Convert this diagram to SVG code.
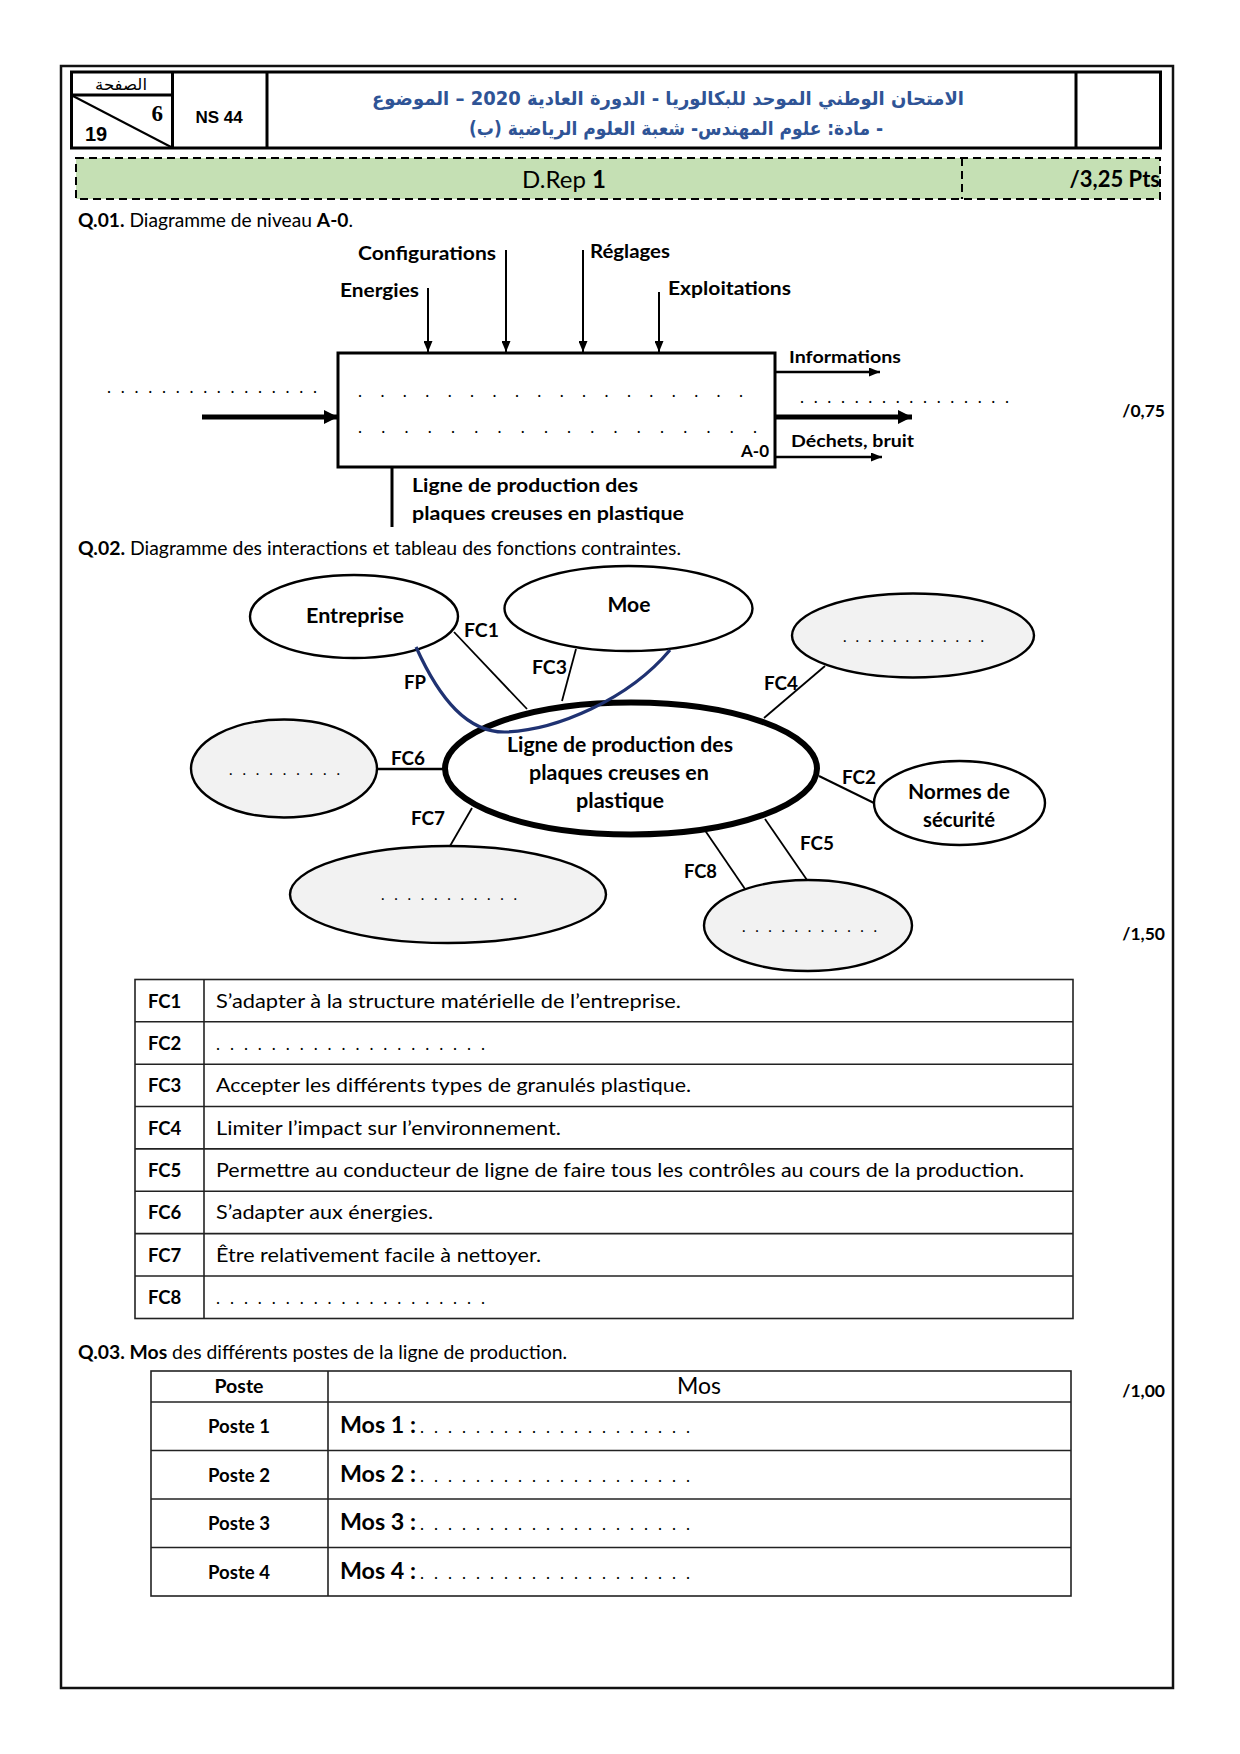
<svg xmlns="http://www.w3.org/2000/svg" width="1240" height="1754" viewBox="0 0 1240 1754">
<style>
.b{font-family:Lato,'Noto Sans',sans-serif;font-weight:700;fill:#000}
.r{font-family:Lato,'Noto Sans',sans-serif;font-weight:400;fill:#000}
.ln{stroke:#000;fill:none}
.el{fill:#fff;stroke:#000;stroke-width:2.4}
.eg{fill:#f2f2f2;stroke:#000;stroke-width:2.4}
.ar{font-family:'DejaVu Sans',sans-serif;font-weight:700;fill:#2F5496}
.tb{stroke:#222;stroke-width:1.6;fill:none}
.fc{font-family:Lato,'Noto Sans',sans-serif;font-weight:700;font-size:19.5px;fill:#000}
</style>
<defs>
<marker id="ah" markerUnits="userSpaceOnUse" markerWidth="11" markerHeight="9" refX="11" refY="4.5" orient="auto"><path d="M0,0 L11,4.5 L0,9 z" fill="#000"/></marker>
<marker id="ahb" markerUnits="userSpaceOnUse" markerWidth="14" markerHeight="14" refX="14" refY="7" orient="auto"><path d="M0,0 L14,7 L0,14 z" fill="#000"/></marker>
</defs>
<rect width="1240" height="1754" fill="#fff"/>
<rect x="61" y="66" width="1112" height="1622" fill="none" stroke="#111" stroke-width="2.5"/>

<g id="header">
<rect x="71.5" y="72" width="1089" height="76" class="ln" stroke-width="3"/>
<line x1="172.5" y1="72" x2="172.5" y2="148" class="ln" stroke-width="3"/>
<line x1="267" y1="72" x2="267" y2="148" class="ln" stroke-width="3"/>
<line x1="1076" y1="72" x2="1076" y2="148" class="ln" stroke-width="3"/>
<line x1="71.5" y1="95" x2="172.5" y2="95" class="ln" stroke-width="3"/>
<line x1="73" y1="96" x2="171" y2="147" class="ln" stroke-width="2"/>
<text x="121" y="90" font-family="'DejaVu Sans',sans-serif" font-size="16" text-anchor="middle" direction="rtl" textLength="52" lengthAdjust="spacingAndGlyphs">الصفحة</text>
<text x="163" y="121" font-family="'Liberation Serif',serif" font-weight="700" font-size="23" text-anchor="end">6</text>
<text x="85" y="141" font-family="'Liberation Sans',sans-serif" font-weight="700" font-size="20">19</text>
<text x="219" y="123" font-family="'Liberation Sans',sans-serif" font-weight="700" font-size="17" text-anchor="middle">NS 44</text>
<text x="668" y="105" class="ar" font-size="19" text-anchor="middle" direction="rtl" textLength="592" lengthAdjust="spacingAndGlyphs">الامتحان الوطني الموحد للبكالوريا - الدورة العادية 2020 – الموضوع</text>
<text x="676" y="135" class="ar" font-size="19" text-anchor="middle" direction="rtl" textLength="414" lengthAdjust="spacingAndGlyphs">- مادة: علوم المهندس- شعبة العلوم الرياضية (ب)</text>
</g>

<g id="banner">
<rect x="76" y="158" width="1084" height="41" fill="#C5E0B4" stroke="#000" stroke-width="2" stroke-dasharray="8 5"/>
<line x1="962" y1="158" x2="962" y2="199" stroke="#000" stroke-width="2" stroke-dasharray="8 5"/>
<text x="564" y="188" class="r" font-size="24" text-anchor="middle">D.Rep <tspan class="b">1</tspan></text>
<text x="1160" y="187" class="b" font-size="22" text-anchor="end">/3,25 Pts</text>
</g>

<g id="q01">
<text x="78" y="227" class="r" font-size="18.5" textLength="275" lengthAdjust="spacingAndGlyphs"><tspan class="b">Q.01.</tspan> Diagramme de niveau <tspan class="b">A-0</tspan>.</text>
<text x="1165" y="417" class="b" font-size="17.5" text-anchor="end">/0,75</text>
</g>

<g id="a0-box">
<rect x="338" y="353" width="437" height="114" fill="#fff" stroke="#000" stroke-width="3"/>
<text x="358" y="397" class="r" font-size="17" textLength="385" lengthAdjust="spacing">. . . . . . . . . . . . . . . . . .</text>
<text x="358" y="433" class="r" font-size="17" textLength="399" lengthAdjust="spacing">. . . . . . . . . . . . . . . . . .</text>
<text x="769" y="457" class="b" font-size="17" text-anchor="end">A-0</text>
</g>

<g id="a0-labels">
<text x="358" y="260" class="b" font-size="18.5" textLength="138" lengthAdjust="spacingAndGlyphs">Configurations</text>
<text x="590" y="258" class="b" font-size="18.5" textLength="80" lengthAdjust="spacingAndGlyphs">Réglages</text>
<text x="340" y="297" class="b" font-size="18.5" textLength="79" lengthAdjust="spacingAndGlyphs">Energies</text>
<text x="668" y="295" class="b" font-size="18.5" textLength="123" lengthAdjust="spacingAndGlyphs">Exploitations</text>
<text x="789" y="363" class="b" font-size="17" textLength="112" lengthAdjust="spacingAndGlyphs">Informations</text>
<text x="791" y="447" class="b" font-size="17" textLength="123" lengthAdjust="spacingAndGlyphs">Déchets, bruit</text>
<text x="107" y="393" class="r" font-size="17" textLength="210" lengthAdjust="spacing">. . . . . . . . . . . . . . . .</text>
<text x="800" y="403" class="r" font-size="17" textLength="209" lengthAdjust="spacing">. . . . . . . . . . . . . . . .</text>
<text x="412" y="492" class="b" font-size="18.5" textLength="226" lengthAdjust="spacingAndGlyphs">Ligne de production des</text>
<text x="412" y="520" class="b" font-size="18.5" textLength="272" lengthAdjust="spacingAndGlyphs">plaques creuses en plastique</text>
</g>

<g id="a0-arrows">
<line x1="428" y1="288" x2="428" y2="352" class="ln" stroke-width="2" marker-end="url(#ah)"/>
<line x1="506" y1="250" x2="506" y2="352" class="ln" stroke-width="2" marker-end="url(#ah)"/>
<line x1="583" y1="250" x2="583" y2="352" class="ln" stroke-width="2" marker-end="url(#ah)"/>
<line x1="659" y1="292" x2="659" y2="352" class="ln" stroke-width="2" marker-end="url(#ah)"/>
<line x1="202" y1="417" x2="338" y2="417" class="ln" stroke-width="5" marker-end="url(#ahb)"/>
<line x1="776" y1="417" x2="912" y2="417" class="ln" stroke-width="5" marker-end="url(#ahb)"/>
<line x1="776" y1="372" x2="880" y2="372" class="ln" stroke-width="2.5" marker-end="url(#ah)"/>
<line x1="776" y1="457" x2="882" y2="457" class="ln" stroke-width="2.5" marker-end="url(#ah)"/>
<line x1="392" y1="468" x2="392" y2="527" class="ln" stroke-width="3"/>
</g>

<g id="q02">
<text x="78" y="555" class="r" font-size="18.5" textLength="603" lengthAdjust="spacingAndGlyphs"><tspan class="b">Q.02.</tspan> Diagramme des interactions et tableau des fonctions contraintes.</text>
<text x="1165" y="940" class="b" font-size="17.5" text-anchor="end">/1,50</text>
</g>

<g id="connectors">
<line x1="454" y1="632" x2="527" y2="709" class="ln" stroke-width="1.8"/>
<line x1="576" y1="649" x2="562" y2="701" class="ln" stroke-width="1.8"/>
<line x1="825" y1="666" x2="764" y2="718" class="ln" stroke-width="1.8"/>
<line x1="377" y1="769" x2="443" y2="769" class="ln" stroke-width="2.5"/>
<line x1="819" y1="776" x2="874" y2="803" class="ln" stroke-width="2"/>
<line x1="472" y1="808" x2="450" y2="846" class="ln" stroke-width="1.8"/>
<line x1="765" y1="819" x2="807" y2="880" class="ln" stroke-width="1.8"/>
<line x1="702" y1="826" x2="745" y2="889" class="ln" stroke-width="1.8"/>
<text x="464" y="637" class="fc" textLength="35" lengthAdjust="spacingAndGlyphs">FC1</text>
<text x="532" y="674" class="fc" textLength="35" lengthAdjust="spacingAndGlyphs">FC3</text>
<text x="404" y="689" class="fc" textLength="22" lengthAdjust="spacingAndGlyphs">FP</text>
<text x="764" y="690" class="fc" textLength="34" lengthAdjust="spacingAndGlyphs">FC4</text>
<text x="391" y="765" class="fc" textLength="34" lengthAdjust="spacingAndGlyphs">FC6</text>
<text x="842" y="784" class="fc" textLength="34" lengthAdjust="spacingAndGlyphs">FC2</text>
<text x="411" y="825" class="fc" textLength="34" lengthAdjust="spacingAndGlyphs">FC7</text>
<text x="800" y="850" class="fc" textLength="34" lengthAdjust="spacingAndGlyphs">FC5</text>
<text x="684" y="878" class="fc" textLength="33" lengthAdjust="spacingAndGlyphs">FC8</text>
</g>

<g id="entreprise"><ellipse cx="354" cy="616.5" rx="104" ry="41.5" class="el"/><text x="355" y="623" class="b" font-size="21" text-anchor="middle" textLength="98" lengthAdjust="spacingAndGlyphs">Entreprise</text></g>
<g id="moe"><ellipse cx="628.5" cy="608.5" rx="124" ry="42.5" class="el"/><text x="629" y="612" class="b" font-size="21" text-anchor="middle" textLength="43" lengthAdjust="spacingAndGlyphs">Moe</text></g>
<g id="env-top-right"><ellipse cx="913" cy="635.5" rx="121" ry="42" class="eg"/><text x="843" y="642" class="r" font-size="15" textLength="141" lengthAdjust="spacing">. . . . . . . . . . . .</text></g>
<g id="env-left"><ellipse cx="284" cy="768.5" rx="93" ry="49" class="eg"/><text x="229" y="775" class="r" font-size="15" textLength="111" lengthAdjust="spacing">. . . . . . . . .</text></g>
<g id="env-bottom-left"><ellipse cx="448" cy="894.5" rx="158" ry="48.5" class="eg"/><text x="381" y="900" class="r" font-size="15" textLength="136" lengthAdjust="spacing">. . . . . . . . . . .</text></g>
<g id="env-bottom-right"><ellipse cx="808" cy="925.5" rx="104" ry="45.5" class="eg"/><text x="742" y="932" class="r" font-size="15" textLength="135" lengthAdjust="spacing">. . . . . . . . . . .</text></g>
<g id="normes"><ellipse cx="959.5" cy="803" rx="85.5" ry="42" class="el"/><text x="959" y="799" class="b" font-size="20.5" text-anchor="middle" textLength="102" lengthAdjust="spacingAndGlyphs">Normes de</text><text x="959" y="827" class="b" font-size="20.5" text-anchor="middle" textLength="72" lengthAdjust="spacingAndGlyphs">sécurité</text></g>
<g id="systeme">
<ellipse cx="631" cy="768.5" rx="186" ry="66" fill="#fff" stroke="#000" stroke-width="6"/>
<text x="620" y="752" class="b" font-size="20" text-anchor="middle" textLength="226" lengthAdjust="spacingAndGlyphs">Ligne de production des</text>
<text x="619" y="780" class="b" font-size="20" text-anchor="middle" textLength="180" lengthAdjust="spacingAndGlyphs">plaques creuses en</text>
<text x="620" y="808" class="b" font-size="20" text-anchor="middle" textLength="88" lengthAdjust="spacingAndGlyphs">plastique</text>
</g>
<g id="fp-curve"><path d="M416,647 C440,700 468,733 506,732 C556,730 628,700 670,650" fill="none" stroke="#1F3272" stroke-width="3.2"/></g>

<g id="table-fc">
<rect x="135" y="979.5" width="938" height="339" class="tb"/>
<line x1="135" y1="1021.8" x2="1073" y2="1021.8" class="tb"/>
<line x1="135" y1="1064.2" x2="1073" y2="1064.2" class="tb"/>
<line x1="135" y1="1106.5" x2="1073" y2="1106.5" class="tb"/>
<line x1="135" y1="1148.9" x2="1073" y2="1148.9" class="tb"/>
<line x1="135" y1="1191.2" x2="1073" y2="1191.2" class="tb"/>
<line x1="135" y1="1233.6" x2="1073" y2="1233.6" class="tb"/>
<line x1="135" y1="1276" x2="1073" y2="1276" class="tb"/>
<line x1="204" y1="979.5" x2="204" y2="1318.5" class="tb"/>
<text x="148" y="1008" class="b" font-size="18.5">FC1</text>
<text x="148" y="1050" class="b" font-size="18.5">FC2</text>
<text x="148" y="1092" class="b" font-size="18.5">FC3</text>
<text x="148" y="1135" class="b" font-size="18.5">FC4</text>
<text x="148" y="1177" class="b" font-size="18.5">FC5</text>
<text x="148" y="1219" class="b" font-size="18.5">FC6</text>
<text x="148" y="1262" class="b" font-size="18.5">FC7</text>
<text x="148" y="1304" class="b" font-size="18.5">FC8</text>
<text x="216" y="1008" class="r" font-size="19" textLength="465" lengthAdjust="spacingAndGlyphs">S’adapter à la structure matérielle de l’entreprise.</text>
<text x="216" y="1050" class="r" font-size="17" textLength="269" lengthAdjust="spacing">. . . . . . . . . . . . . . . . . . . .</text>
<text x="216" y="1092" class="r" font-size="19" textLength="475" lengthAdjust="spacingAndGlyphs">Accepter les différents types de granulés plastique.</text>
<text x="216" y="1135" class="r" font-size="19" textLength="345" lengthAdjust="spacingAndGlyphs">Limiter l’impact sur l’environnement.</text>
<text x="216" y="1177" class="r" font-size="19" textLength="808" lengthAdjust="spacingAndGlyphs">Permettre au conducteur de ligne de faire tous les contrôles au cours de la production.</text>
<text x="216" y="1219" class="r" font-size="19" textLength="217" lengthAdjust="spacingAndGlyphs">S’adapter aux énergies.</text>
<text x="216" y="1262" class="r" font-size="19" textLength="325" lengthAdjust="spacingAndGlyphs">Être relativement facile à nettoyer.</text>
<text x="216" y="1304" class="r" font-size="17" textLength="269" lengthAdjust="spacing">. . . . . . . . . . . . . . . . . . . .</text>
</g>

<g id="q03">
<text x="78" y="1359" class="r" font-size="18.5" textLength="489" lengthAdjust="spacingAndGlyphs"><tspan class="b">Q.03. Mos</tspan> des différents postes de la ligne de production.</text>
<text x="1165" y="1397" class="b" font-size="17.5" text-anchor="end">/1,00</text>
</g>

<g id="table-mos">
<rect x="151" y="1371" width="920" height="225" class="tb"/>
<line x1="151" y1="1402" x2="1071" y2="1402" class="tb"/>
<line x1="151" y1="1450.5" x2="1071" y2="1450.5" class="tb"/>
<line x1="151" y1="1499" x2="1071" y2="1499" class="tb"/>
<line x1="151" y1="1547.5" x2="1071" y2="1547.5" class="tb"/>
<line x1="328" y1="1371" x2="328" y2="1596" class="tb"/>
<text x="239" y="1393" class="b" font-size="19" text-anchor="middle" textLength="49" lengthAdjust="spacingAndGlyphs">Poste</text>
<text x="699" y="1394" class="r" font-size="23" text-anchor="middle">Mos</text>
<text x="239" y="1433" class="b" font-size="18" text-anchor="middle" textLength="62" lengthAdjust="spacingAndGlyphs">Poste 1</text>
<text x="239" y="1482" class="b" font-size="18" text-anchor="middle" textLength="62" lengthAdjust="spacingAndGlyphs">Poste 2</text>
<text x="239" y="1530" class="b" font-size="18" text-anchor="middle" textLength="62" lengthAdjust="spacingAndGlyphs">Poste 3</text>
<text x="239" y="1579" class="b" font-size="18" text-anchor="middle" textLength="62" lengthAdjust="spacingAndGlyphs">Poste 4</text>
<text x="340" y="1433" class="b" font-size="22" textLength="76" lengthAdjust="spacingAndGlyphs">Mos 1 :</text>
<text x="340" y="1482" class="b" font-size="22" textLength="76" lengthAdjust="spacingAndGlyphs">Mos 2 :</text>
<text x="340" y="1530" class="b" font-size="22" textLength="76" lengthAdjust="spacingAndGlyphs">Mos 3 :</text>
<text x="340" y="1579" class="b" font-size="22" textLength="76" lengthAdjust="spacingAndGlyphs">Mos 4 :</text>
<text x="420" y="1433" class="r" font-size="17" textLength="270" lengthAdjust="spacing">. . . . . . . . . . . . . . . . . . . .</text>
<text x="420" y="1482" class="r" font-size="17" textLength="270" lengthAdjust="spacing">. . . . . . . . . . . . . . . . . . . .</text>
<text x="420" y="1530" class="r" font-size="17" textLength="270" lengthAdjust="spacing">. . . . . . . . . . . . . . . . . . . .</text>
<text x="420" y="1579" class="r" font-size="17" textLength="270" lengthAdjust="spacing">. . . . . . . . . . . . . . . . . . . .</text>
</g>
</svg>
